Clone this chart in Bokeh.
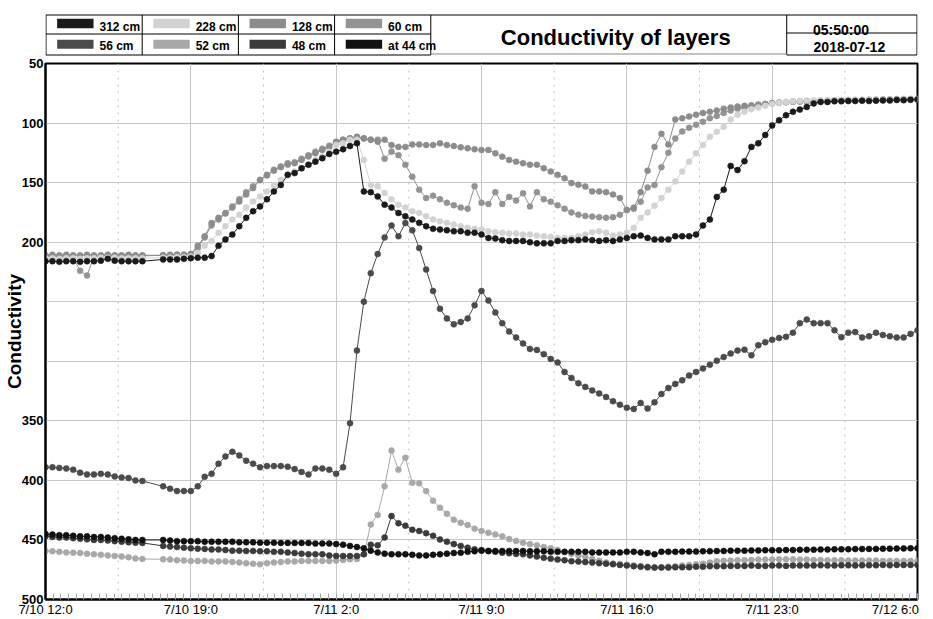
from bokeh.plotting import figure
from bokeh.models import Range1d, FixedTicker, Span
from bokeh.layouts import column
from bokeh.embed import file_html
from bokeh.resources import INLINE
from bokeh.core.properties import value

FONT = "Liberation Sans"

# ---------------- data ----------------
TITLE = "Conductivity of layers"
CLOCK_TIME = "05:50:00"
CLOCK_DATE = "2018-07-12"
Y_LABEL = "Conductivity"

SERIES_NAMES = ["312 cm", "228 cm", "128 cm", "60 cm", "56 cm", "52 cm", "48 cm", "at 44 cm"]
SERIES_COLORS = ["#1a1a1a", "#d2d2d2", "#8c8c8c", "#939393", "#4b4b4b", "#a8a8a8", "#3b3b3b", "#111111"]

# sample times: hours after 7/10 12:00, one reading every 20 minutes (None = no reading)
SAMPLE_HOURS = [i * 20 / 60 for i in range(127)]

X_TICK_HOURS = [0, 7, 14, 21, 28, 35, 42]
X_TICK_LABELS = ["7/10 12:0", "7/10 19:0", "7/11 2:0", "7/11 9:0", "7/11 16:0", "7/11 23:0", "7/12 6:0"]
Y_TICKS = [50, 100, 150, 200, 250, 300, 350, 400, 450, 500]
Y_TICKS_UNLABELLED = [250, 300]

s312 = [216, 216, 216.5, 216, 216, 216.5, 216, 216, 215.5, 214,
        215.5, 216, 216, 216, 216, None, None, 214.5, 214.5, 214.5,
        214, 213.5, 213, 213, 211.7, 203, 197.7, 193.6, 186.6, 179.6,
        174, 170, 164, 157.4, 152, 143.5, 142, 138, 135, 132.4,
        129.5, 126, 124, 122, 119.3, 117, 157.4, 158, 161.6, 168.5,
        171, 175.5, 178.3, 181, 183.8, 186.6, 188.8, 189.4, 190, 190.8,
        190.8, 192, 192, 193.6, 196.4, 197, 198.3, 199, 199, 199,
        200, 201, 201, 201, 199, 199, 198.3, 198.3, 197.7, 198.3,
        199, 198.3, 199, 197.7, 196.4, 195, 194.5, 196.4, 197.7, 197.7,
        197.7, 195, 195, 195, 193.6, 186, 181, 162, 156, 136,
        139.5, 132, 120, 117, 110, 102, 97.6, 93.4, 90.6, 88.7,
        86.5, 83.6, 82.3, 82.3, 81.7, 81.7, 81.5, 81.5, 81.3, 81.5,
        81.2, 81, 81, 80.6, 80.8, 80.5, 80.3]

s228 = [213.5, 213.5, 214, 213.5, 213.5, 214, 213.5, 213.5, 213, 213,
        213, 213.5, 213.5, 213.5, 213.5, None, None, 213, 213, 212.5,
        212.5, 212, 209, 203, 199, 192, 186.6, 181, 177, 171,
        165.8, 161.6, 157.4, 152, 147.7, 143.5, 140.7, 138, 135, 131,
        128, 124, 118.5, 117, 114, 114, 131, 152, 153, 158.8,
        164, 168.5, 171, 174, 175.5, 178.3, 181, 182.5, 183.8, 185.2,
        186.6, 188, 188.8, 189.4, 190.8, 191.6, 192, 192.7, 192.7, 193.6,
        193.6, 194.5, 195, 195.5, 196.4, 196.4, 196.4, 195, 193.6, 191.6,
        190.8, 192, 194.5, 193.6, 192, 188, 179.6, 175, 169.5, 163,
        156, 149, 140.7, 132.4, 125.4, 118.5, 111.5, 107.3, 103, 97,
        93, 90.6, 88.5, 87, 85.5, 84, 83, 82.3, 81.7, 81.3,
        81, 81, 80.8, 80.8, 80.6, 80.6, 80.5, 80.5, 80.4, 80.4,
        80.3, 80.3, 80.2, 80.2, 80, 80, 80]

s128 = [211, 210.5, 211, 210.5, 211, 211, 210.5, 211, 211, 210.5,
        211, 211, 210.5, 211, 211, None, None, 211, 210.5, 210.5,
        210.5, 210, 203, 195, 184, 179.6, 175.5, 171, 165.8, 160,
        154.6, 147.7, 143.5, 139.3, 136.5, 133.7, 133.7, 131, 128, 125.4,
        122.6, 120, 115.7, 114, 112.8, 111.5, 112.8, 114, 115.7, 114,
        118.5, 120, 120, 117.9, 117.9, 118.5, 118.5, 117, 118.5, 119.3,
        120.4, 121.2, 122, 122.6, 122.6, 125.4, 128.2, 131, 132.4, 133.7,
        135, 135, 138, 140.7, 143.5, 146.3, 150.4, 151.8, 153.2, 157.4,
        157.4, 158, 160, 163, 173, 172, 158, 140, 120, 109,
        118, 97, 96, 94.5, 93, 91.5, 90.6, 89.5, 88, 87,
        86, 85.5, 85, 84.5, 84, 83.2, 82.8, 82.5, 82.2, 82,
        81.8, 81.6, 81.4, 81.2, 81, 81, 80.8, 80.8, 80.6, 80.5,
        80.4, 80.3, 80.2, 80, 80, 79.8, 79.8]

s60 = [211.5, 211.5, 212, 211.5, 213, 224, 228, 212, 211.5, 211,
       211.5, 211.5, 211, 211.5, 211.5, None, None, 211, 211, 210.5,
       210.5, 210, 205, 196, 186, 181, 176, 170, 164, 158,
       153, 148, 144, 140, 137, 135, 133, 130, 127, 124,
       121.5, 119, 116, 114, 113, 112, 113, 114, 114, 130,
       124, 127, 135, 145, 156, 163, 161, 164, 167, 169,
       171, 172, 153, 167, 168, 158, 168, 162, 165, 159,
       170, 158, 164, 166, 169, 172, 175, 177, 178, 178.5,
       179, 179.5, 179, 177, 173, 171, 166, 154, 152, 137,
       125, 113, 107, 104, 101.5, 99, 96, 94, 91.5, 89.5,
       88, 87, 86, 85, 84, 83.5, 83, 82.5, 82, 81.8,
       81.6, 81.4, 81.2, 81, 81, 80.8, 80.8, 80.6, 80.6, 80.5,
       80.4, 80.3, 80.2, 80.1, 80, 80, 79.8]

s56 = [389, 389, 389.5, 390, 391, 393.5, 395, 395, 394.5, 395,
       396.7, 397.5, 398, 400, 400.5, None, None, 405, 407, 409,
       409, 409, 405, 397, 394.5, 386, 380, 376, 379, 383.5,
       386, 389, 388, 388, 388, 388.5, 390.5, 393, 395, 390,
       390, 391, 394.5, 389, 352, 291, 250, 226, 210, 196,
       186, 195, 184, 190, 205, 223, 241, 256, 264, 269,
       267, 264, 253, 241, 249, 259, 268, 275, 280, 285,
       289.6, 290.5, 294, 298, 301, 309, 314, 318.5, 321.5, 324.5,
       327, 330, 333.5, 336.5, 339, 340, 335, 339.7, 334.5, 327.5,
       322.5, 319, 316, 312, 309, 306, 303, 299.5, 296.5, 293.5,
       291, 290.3, 295, 286.5, 284, 282, 280.5, 279.5, 276, 268,
       265, 268, 268, 268, 274, 279.8, 276, 275.5, 280, 279,
       276, 278, 279, 280, 280, 277, 274]

s52 = [459.3, 459.5, 460, 460.5, 460.7, 461, 461.5, 462, 462.5, 463,
       463.5, 464, 464.5, 465.5, 466, None, None, 466.2, 466.5, 467,
       467.3, 467.6, 467.6, 467.6, 468, 468, 468, 468.5, 469, 469.5,
       470, 470.4, 469.5, 469, 468.5, 468, 468, 467.6, 467.6, 467.6,
       467.6, 467.6, 467.2, 466.8, 466.2, 466, 462, 437, 429, 405,
       375, 391, 381, 402, 402.5, 409, 417, 423, 428, 433,
       435.5, 437.5, 440.5, 442.5, 444, 445.5, 447, 449.3, 450.8, 452.3,
       453.5, 454.5, 456, 457, 458.4, 460.2, 461.8, 463, 464.3, 466,
       467.5, 469, 469.7, 470.3, 470.8, 471.5, 471.9, 472.5, 473.2, 473,
       472.5, 472, 471.5, 471, 470.5, 470, 469, 467.8, 467.5, 467.3,
       467, 467, 466.8, 466.5, 466.5, 466.5, 466.2, 466.2, 466.2, 466.5,
       466.5, 466.8, 466.8, 467, 467, 467, 467.3, 467.3, 467.3, 467.3,
       467.3, 467.6, 467.6, 467.6, 467.6, 467.6, 467.6]

s48 = [447, 447.5, 448, 448, 448.5, 449, 449.5, 450, 450, 450.5,
       451, 451.5, 452, 452.3, 452.5, None, None, 455, 455.5, 456,
       456.5, 457, 457.3, 457.5, 458, 458, 458.5, 459, 459, 459.3,
       459.3, 459.5, 459.5, 460, 460, 460.5, 461, 461.5, 462, 462,
       462, 463, 463.4, 463.5, 463.5, 463.4, 462, 454, 454.5, 448,
       430, 436, 438, 441.5, 442.5, 444.3, 446.5, 449.6, 451.5, 453.5,
       455, 456.5, 457.9, 458.5, 459.3, 460, 460.7, 461.2, 461.7, 462,
       463, 464, 465, 465.7, 466.5, 467, 467.8, 468.2, 468.6, 469,
       469.5, 470, 470.4, 471, 471.5, 472, 472.5, 473, 473.2, 473.2,
       473.2, 473, 473, 473, 472.5, 472.5, 472, 472, 472, 471.8,
       471.8, 471.8, 471.5, 471.8, 471.8, 471.5, 471.5, 471.8, 471.5, 471.5,
       471.5, 471.5, 471.3, 471.5, 471.5, 471.3, 471.3, 471.5, 471.3, 471.3,
       471.3, 471, 471.3, 471, 471, 471, 471]

s44 = [445, 445.5, 446, 446, 446.5, 447, 447, 447.5, 447.5, 448,
       448.5, 449, 449.5, 450, 450, None, None, 450, 450.5, 451,
       451, 451, 451, 451.5, 451.5, 451.5, 451.5, 451.5, 452, 452,
       452, 452.3, 452.3, 452.3, 452.5, 452.5, 452.5, 452.5, 452.5, 453,
       453, 453, 453.5, 454, 455, 456, 457, 459, 460.5, 461.5,
       462, 462, 462, 462.5, 463, 463, 462.5, 462, 461.5, 461,
       460.7, 460, 459.5, 459, 459.3, 459.3, 459.3, 459.3, 459.3, 459.3,
       459.5, 459.5, 459.5, 460, 460, 460, 460, 460, 460, 460.5,
       460.5, 460.5, 460.5, 460.5, 460, 460, 460.5, 461, 462, 460,
       460, 460, 459.8, 459.8, 459.8, 459.5, 459.5, 459.3, 459.3, 459,
       459, 459, 458.8, 458.8, 458.6, 458.6, 458.6, 458.5, 458.5, 458.3,
       458.3, 458.2, 458, 458, 457.9, 457.9, 457.8, 457.7, 457.6, 457.5,
       457.5, 457.4, 457.3, 457.2, 457.1, 457, 457]

SERIES_VALUES = [s312, s228, s128, s60, s56, s52, s48, s44]

# ---------------- layout constants (pixels) ----------------
W = 933
HEADER_H = 56
MAIN_H = 563
BORDER_L, BORDER_R = 40, 16


def points(vals):
    xs = [h for h, v in zip(SAMPLE_HOURS, vals) if v is not None]
    ys = [v for v in vals if v is not None]
    return xs, ys


# ---------------- header (legend table, title, clock) ----------------
hd = figure(width=W, height=HEADER_H, output_backend="svg", toolbar_location=None,
            x_range=Range1d(BORDER_L, W - BORDER_R), y_range=Range1d(HEADER_H, 0),
            x_axis_location=None, y_axis_location=None,
            min_border_left=BORDER_L, min_border_right=BORDER_R,
            min_border_top=0, min_border_bottom=0)
hd.grid.visible = False
hd.outline_line_color = None
hd.background_fill_color = "white"
hd.border_fill_color = "white"

L, CELL = 40.5, 96.75
LEG_R = 427.5
TITLE_R = 785.5
R = 916.5
TOP, MID, BOT = 14.5, 33.5, 54.5

x0s, y0s, x1s, y1s = [], [], [], []
def seg(a, b, c, d):
    x0s.append(a); y0s.append(b); x1s.append(c); y1s.append(d)

seg(L, TOP, R, TOP)
seg(L, BOT, LEG_R, BOT)
seg(TITLE_R, BOT, R, BOT)
seg(L, MID, LEG_R, MID)
seg(TITLE_R, 32.5, R, 32.5)
for k in range(5):
    xk = L + k * CELL
    seg(xk, TOP, xk, BOT)
seg(TITLE_R, TOP, TITLE_R, BOT)
seg(R, TOP, R, BOT)
hd.segment(x0s, y0s, x1s, y1s, line_color="black", line_width=1)
hd.segment([LEG_R], [53.5], [TITLE_R], [53.5], line_color="#888888", line_width=1)

sw_l, sw_r, sw_t, sw_b, tx, ty = [], [], [], [], [], []
for k, name in enumerate(SERIES_NAMES):
    col, row = k % 4, k // 4
    left = 40 + col * CELL
    sw_l.append(left + 11.7)
    sw_r.append(left + 48.3)
    sw_t.append(18.3 if row == 0 else 39.3)
    sw_b.append(27.7 if row == 0 else 48.3)
    tx.append(left + 54.3)
    ty.append(26.7 if row == 0 else 45.5)
hd.quad(left=sw_l, right=sw_r, top=sw_t, bottom=sw_b, fill_color=SERIES_COLORS, line_color=None)
hd.text(x=tx, y=ty, text=SERIES_NAMES, text_font=value(FONT), text_font_size="12px",
        text_font_style="bold", text_color="black", text_baseline="alphabetic", text_align="left")
hd.text(x=[613.5], y=[36.7], text=[TITLE], text_font=value(FONT), text_font_size="22px",
        text_font_style="bold", text_color="black", text_baseline="alphabetic", text_align="center")
hd.text(x=[840, 848.5], y=[29.3, 46.7], text=[CLOCK_TIME, CLOCK_DATE], text_font=value(FONT),
        text_font_size="14px", text_font_style="bold", text_color="black",
        text_baseline="alphabetic", text_align="center")

# ---------------- main plot ----------------
p = figure(width=W, height=MAIN_H, output_backend="svg", toolbar_location=None,
           x_range=Range1d(X_TICK_HOURS[0], X_TICK_HOURS[-1]),
           y_range=Range1d(Y_TICKS[-1], Y_TICKS[0]),
           min_border_left=BORDER_L, min_border_right=BORDER_R,
           min_border_top=7, min_border_bottom=17)
p.background_fill_color = "white"
p.border_fill_color = "white"
p.outline_line_color = "black"
p.outline_line_width = 2

step = X_TICK_HOURS[1] - X_TICK_HOURS[0]
minor = [step * k / 19 for k in range(19 * (len(X_TICK_HOURS) - 1) + 1)]
xa = p.xaxis[0]
xa.ticker = FixedTicker(ticks=X_TICK_HOURS, minor_ticks=minor)
overrides = {h: lab for h, lab in zip(X_TICK_HOURS, X_TICK_LABELS)}
# the last label sits at the canvas edge: pad it with no-break spaces so it stays inside
overrides[X_TICK_HOURS[-1]] = X_TICK_LABELS[-1] + "\u00a0" * 4
xa.major_label_overrides = overrides
xa.major_label_text_font = FONT
xa.major_label_text_font_size = "13px"
xa.major_label_text_color = "black"
xa.major_label_standoff = 2
xa.axis_line_color = "black"
xa.axis_line_width = 2
xa.major_tick_in = 6
xa.major_tick_out = 0
xa.major_tick_line_color = "#a0a0a0"
xa.minor_tick_in = 6
xa.minor_tick_out = 0
xa.minor_tick_line_color = "#a8a8a8"

ya = p.yaxis[0]
ya.ticker = FixedTicker(ticks=[t for t in Y_TICKS if t not in Y_TICKS_UNLABELLED])
ya.major_label_text_font = FONT
ya.major_label_text_font_size = "13px"
ya.major_label_text_font_style = "bold"
ya.major_label_text_color = "black"
ya.major_label_standoff = 2
ya.axis_line_color = "black"
ya.axis_line_width = 2
ya.major_tick_in = 0
ya.major_tick_out = 0
ya.minor_tick_in = 0
ya.minor_tick_out = 0
ya.axis_label = Y_LABEL
ya.axis_label_text_font = FONT
ya.axis_label_text_font_size = "19px"
ya.axis_label_text_font_style = "bold"
ya.axis_label_text_color = "black"
ya.axis_label_standoff = -6

p.xgrid.ticker = FixedTicker(ticks=X_TICK_HOURS)
p.ygrid.ticker = FixedTicker(ticks=Y_TICKS)
p.grid.grid_line_color = "#c8c8c8"
p.grid.grid_line_width = 1

for a, b in zip(X_TICK_HOURS[:-1], X_TICK_HOURS[1:]):
    p.add_layout(Span(location=(a + b) / 2, dimension="height", line_color="#c0c0c0",
                      line_width=1, line_dash="2 5", level="underlay"))

draw_order = [3, 2, 1, 0, 4, 5, 6, 7]
for k in draw_order:
    xs, ys = points(SERIES_VALUES[k])
    p.line(xs, ys, line_color=SERIES_COLORS[k], line_width=1)
    p.scatter(xs, ys, marker="circle", size=6, fill_color=SERIES_COLORS[k],
              line_color=SERIES_COLORS[k], line_width=0.5)

layout = column(hd, p, spacing=0)
open("out.html", "w").write(file_html(layout, INLINE))
